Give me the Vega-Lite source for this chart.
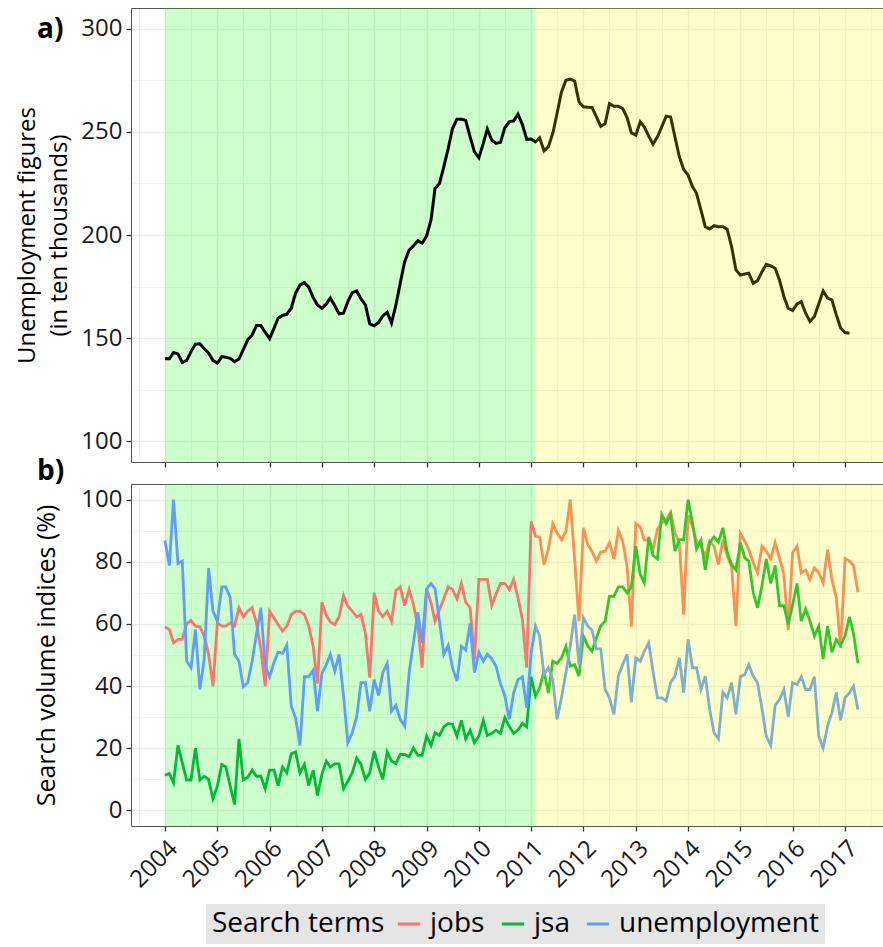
{
  "$schema": "https://vega.github.io/schema/vega-lite/v6.json",
  "background": "white",
  "padding": {"left": 15, "top": 8, "right": 0, "bottom": 0},
  "autosize": {"type": "pad"},
  "config": {
    "font": "Open Sans",
    "view": {"stroke": null},
    "axis": {
      "labelFont": "Open Sans", "titleFont": "Open Sans",
      "labelFontSize": 24, "titleFontSize": 25, "titleFontWeight": "normal",
      "labelColor": "#1a1a1a", "titleColor": "#000000",
      "gridColor": "#ebebeb", "domainColor": "#555555", "domainWidth": 1,
      "tickColor": "#333333", "tickWidth": 1.3, "tickSize": 5,
      "labelOverlap": false, "labelFlush": false, "labelBound": false
    },
    "title": {"font": "Open Sans", "color": "#000000"}
  },
  "datasets": {
    "unemp": [
      {"date":"2004-01","value":140.0},{"date":"2004-02","value":140.0},{"date":"2004-03","value":143.1},{"date":"2004-04","value":142.4},{"date":"2004-05","value":138.2},{"date":"2004-06","value":139.2},{"date":"2004-07","value":143.5},{"date":"2004-08","value":147.1},{"date":"2004-09","value":147.3},{"date":"2004-10","value":145.0},{"date":"2004-11","value":142.8},{"date":"2004-12","value":139.2},
      {"date":"2005-01","value":137.9},{"date":"2005-02","value":141.1},{"date":"2005-03","value":140.8},{"date":"2005-04","value":140.2},{"date":"2005-05","value":138.6},{"date":"2005-06","value":139.9},{"date":"2005-07","value":144.4},{"date":"2005-08","value":149.2},{"date":"2005-09","value":151.6},{"date":"2005-10","value":156.1},{"date":"2005-11","value":156.1},{"date":"2005-12","value":152.9},
      {"date":"2006-01","value":149.8},{"date":"2006-02","value":154.9},{"date":"2006-03","value":159.7},{"date":"2006-04","value":161.0},{"date":"2006-05","value":161.6},{"date":"2006-06","value":164.5},{"date":"2006-07","value":171.8},{"date":"2006-08","value":175.8},{"date":"2006-09","value":176.9},{"date":"2006-10","value":174.7},{"date":"2006-11","value":169.7},{"date":"2006-12","value":166.1},
      {"date":"2007-01","value":164.5},{"date":"2007-02","value":166.6},{"date":"2007-03","value":169.4},{"date":"2007-04","value":165.7},{"date":"2007-05","value":161.8},{"date":"2007-06","value":162.1},{"date":"2007-07","value":167.7},{"date":"2007-08","value":172.1},{"date":"2007-09","value":172.9},{"date":"2007-10","value":169.0},{"date":"2007-11","value":166.1},{"date":"2007-12","value":156.9},
      {"date":"2008-01","value":156.0},{"date":"2008-02","value":157.6},{"date":"2008-03","value":160.8},{"date":"2008-04","value":162.6},{"date":"2008-05","value":157.3},{"date":"2008-06","value":166.1},{"date":"2008-07","value":176.6},{"date":"2008-08","value":187.1},{"date":"2008-09","value":192.7},{"date":"2008-10","value":194.7},{"date":"2008-11","value":197.2},{"date":"2008-12","value":196.0},
      {"date":"2009-01","value":199.5},{"date":"2009-02","value":207.3},{"date":"2009-03","value":222.6},{"date":"2009-04","value":225.0},{"date":"2009-05","value":233.0},{"date":"2009-06","value":241.9},{"date":"2009-07","value":251.6},{"date":"2009-08","value":256.1},{"date":"2009-09","value":256.1},{"date":"2009-10","value":255.6},{"date":"2009-11","value":247.6},{"date":"2009-12","value":240.3},
      {"date":"2010-01","value":237.4},{"date":"2010-02","value":244.4},{"date":"2010-03","value":251.3},{"date":"2010-04","value":246.0},{"date":"2010-05","value":244.4},{"date":"2010-06","value":244.9},{"date":"2010-07","value":251.9},{"date":"2010-08","value":254.8},{"date":"2010-09","value":255.3},{"date":"2010-10","value":258.5},{"date":"2010-11","value":253.5},{"date":"2010-12","value":246.4},
      {"date":"2011-01","value":246.5},{"date":"2011-02","value":245.1},{"date":"2011-03","value":247.1},{"date":"2011-04","value":240.8},{"date":"2011-05","value":242.7},{"date":"2011-06","value":249.2},{"date":"2011-07","value":258.9},{"date":"2011-08","value":269.3},{"date":"2011-09","value":275.0},{"date":"2011-10","value":275.6},{"date":"2011-11","value":274.6},{"date":"2011-12","value":264.5},
      {"date":"2012-01","value":262.1},{"date":"2012-02","value":261.9},{"date":"2012-03","value":261.8},{"date":"2012-04","value":257.2},{"date":"2012-05","value":252.7},{"date":"2012-06","value":254.0},{"date":"2012-07","value":263.7},{"date":"2012-08","value":262.4},{"date":"2012-09","value":262.4},{"date":"2012-10","value":261.3},{"date":"2012-11","value":256.9},{"date":"2012-12","value":249.5},
      {"date":"2013-01","value":248.4},{"date":"2013-02","value":254.8},{"date":"2013-03","value":252.4},{"date":"2013-04","value":247.9},{"date":"2013-05","value":244.0},{"date":"2013-06","value":247.6},{"date":"2013-07","value":252.4},{"date":"2013-08","value":257.6},{"date":"2013-09","value":257.2},{"date":"2013-10","value":247.6},{"date":"2013-11","value":237.9},{"date":"2013-12","value":231.8},
      {"date":"2014-01","value":229.0},{"date":"2014-02","value":223.4},{"date":"2014-03","value":220.2},{"date":"2014-04","value":212.1},{"date":"2014-05","value":204.0},{"date":"2014-06","value":202.9},{"date":"2014-07","value":204.5},{"date":"2014-08","value":204.0},{"date":"2014-09","value":204.0},{"date":"2014-10","value":202.8},{"date":"2014-11","value":194.3},{"date":"2014-12","value":183.1},
      {"date":"2015-01","value":180.6},{"date":"2015-02","value":181.1},{"date":"2015-03","value":181.5},{"date":"2015-04","value":176.6},{"date":"2015-05","value":177.9},{"date":"2015-06","value":182.2},{"date":"2015-07","value":185.8},{"date":"2015-08","value":185.0},{"date":"2015-09","value":183.9},{"date":"2015-10","value":178.2},{"date":"2015-11","value":170.2},{"date":"2015-12","value":164.5},
      {"date":"2016-01","value":163.4},{"date":"2016-02","value":166.6},{"date":"2016-03","value":167.7},{"date":"2016-04","value":162.1},{"date":"2016-05","value":158.1},{"date":"2016-06","value":160.5},{"date":"2016-07","value":166.6},{"date":"2016-08","value":172.9},{"date":"2016-09","value":169.4},{"date":"2016-10","value":168.6},{"date":"2016-11","value":161.3},{"date":"2016-12","value":154.9},
      {"date":"2017-01","value":152.7},{"date":"2017-02","value":152.4}
    ],
    "search": [
      {"date":"2004-01","term":"jobs","value":59.1},{"date":"2004-02","term":"jobs","value":58.2},{"date":"2004-03","term":"jobs","value":53.9},{"date":"2004-04","term":"jobs","value":55.0},{"date":"2004-05","term":"jobs","value":55.0},{"date":"2004-06","term":"jobs","value":60.1},{"date":"2004-07","term":"jobs","value":61.1},{"date":"2004-08","term":"jobs","value":59.3},{"date":"2004-09","term":"jobs","value":59.1},{"date":"2004-10","term":"jobs","value":56.1},{"date":"2004-11","term":"jobs","value":50.2},{"date":"2004-12","term":"jobs","value":40.0},
      {"date":"2005-01","term":"jobs","value":60.3},{"date":"2005-02","term":"jobs","value":59.3},{"date":"2005-03","term":"jobs","value":59.3},{"date":"2005-04","term":"jobs","value":60.3},{"date":"2005-05","term":"jobs","value":59.3},{"date":"2005-06","term":"jobs","value":65.2},{"date":"2005-07","term":"jobs","value":62.3},{"date":"2005-08","term":"jobs","value":64.1},{"date":"2005-09","term":"jobs","value":65.2},{"date":"2005-10","term":"jobs","value":60.3},{"date":"2005-11","term":"jobs","value":51.8},{"date":"2005-12","term":"jobs","value":40.0},
      {"date":"2006-01","term":"jobs","value":64.1},{"date":"2006-02","term":"jobs","value":61.9},{"date":"2006-03","term":"jobs","value":59.8},{"date":"2006-04","term":"jobs","value":57.7},{"date":"2006-05","term":"jobs","value":59.3},{"date":"2006-06","term":"jobs","value":63.0},{"date":"2006-07","term":"jobs","value":64.1},{"date":"2006-08","term":"jobs","value":64.1},{"date":"2006-09","term":"jobs","value":63.0},{"date":"2006-10","term":"jobs","value":59.3},{"date":"2006-11","term":"jobs","value":52.8},{"date":"2006-12","term":"jobs","value":40.8},
      {"date":"2007-01","term":"jobs","value":67.0},{"date":"2007-02","term":"jobs","value":62.7},{"date":"2007-03","term":"jobs","value":60.6},{"date":"2007-04","term":"jobs","value":59.8},{"date":"2007-05","term":"jobs","value":62.3},{"date":"2007-06","term":"jobs","value":69.1},{"date":"2007-07","term":"jobs","value":65.7},{"date":"2007-08","term":"jobs","value":64.1},{"date":"2007-09","term":"jobs","value":62.3},{"date":"2007-10","term":"jobs","value":63.0},{"date":"2007-11","term":"jobs","value":56.9},{"date":"2007-12","term":"jobs","value":42.7},
      {"date":"2008-01","term":"jobs","value":70.0},{"date":"2008-02","term":"jobs","value":64.1},{"date":"2008-03","term":"jobs","value":62.3},{"date":"2008-04","term":"jobs","value":64.1},{"date":"2008-05","term":"jobs","value":60.9},{"date":"2008-06","term":"jobs","value":70.8},{"date":"2008-07","term":"jobs","value":71.9},{"date":"2008-08","term":"jobs","value":65.9},{"date":"2008-09","term":"jobs","value":71.1},{"date":"2008-10","term":"jobs","value":66.2},{"date":"2008-11","term":"jobs","value":59.3},{"date":"2008-12","term":"jobs","value":45.9},
      {"date":"2009-01","term":"jobs","value":71.3},{"date":"2009-02","term":"jobs","value":66.8},{"date":"2009-03","term":"jobs","value":60.9},{"date":"2009-04","term":"jobs","value":64.6},{"date":"2009-05","term":"jobs","value":68.1},{"date":"2009-06","term":"jobs","value":71.9},{"date":"2009-07","term":"jobs","value":71.1},{"date":"2009-08","term":"jobs","value":68.1},{"date":"2009-09","term":"jobs","value":73.0},{"date":"2009-10","term":"jobs","value":67.0},{"date":"2009-11","term":"jobs","value":65.2},{"date":"2009-12","term":"jobs","value":48.6},
      {"date":"2010-01","term":"jobs","value":74.3},{"date":"2010-02","term":"jobs","value":74.3},{"date":"2010-03","term":"jobs","value":74.3},{"date":"2010-04","term":"jobs","value":65.9},{"date":"2010-05","term":"jobs","value":69.5},{"date":"2010-06","term":"jobs","value":73.0},{"date":"2010-07","term":"jobs","value":73.0},{"date":"2010-08","term":"jobs","value":71.1},{"date":"2010-09","term":"jobs","value":74.3},{"date":"2010-10","term":"jobs","value":68.4},{"date":"2010-11","term":"jobs","value":61.4},{"date":"2010-12","term":"jobs","value":45.9},
      {"date":"2011-01","term":"jobs","value":93.0},{"date":"2011-02","term":"jobs","value":88.2},{"date":"2011-03","term":"jobs","value":88.0},{"date":"2011-04","term":"jobs","value":79.1},{"date":"2011-05","term":"jobs","value":83.9},{"date":"2011-06","term":"jobs","value":92.2},{"date":"2011-07","term":"jobs","value":89.3},{"date":"2011-08","term":"jobs","value":87.1},{"date":"2011-09","term":"jobs","value":89.8},{"date":"2011-10","term":"jobs","value":100},{"date":"2011-11","term":"jobs","value":80.7},{"date":"2011-12","term":"jobs","value":60.9},
      {"date":"2012-01","term":"jobs","value":90.9},{"date":"2012-02","term":"jobs","value":85.5},{"date":"2012-03","term":"jobs","value":83.4},{"date":"2012-04","term":"jobs","value":80.2},{"date":"2012-05","term":"jobs","value":83.1},{"date":"2012-06","term":"jobs","value":83.4},{"date":"2012-07","term":"jobs","value":86.1},{"date":"2012-08","term":"jobs","value":80.9},{"date":"2012-09","term":"jobs","value":90.1},{"date":"2012-10","term":"jobs","value":86.6},{"date":"2012-11","term":"jobs","value":78.6},{"date":"2012-12","term":"jobs","value":59.1},
      {"date":"2013-01","term":"jobs","value":92.3},{"date":"2013-02","term":"jobs","value":91.2},{"date":"2013-03","term":"jobs","value":86.9},{"date":"2013-04","term":"jobs","value":87.1},{"date":"2013-05","term":"jobs","value":83.9},{"date":"2013-06","term":"jobs","value":90.4},{"date":"2013-07","term":"jobs","value":92.5},{"date":"2013-08","term":"jobs","value":93.6},{"date":"2013-09","term":"jobs","value":95.9},{"date":"2013-10","term":"jobs","value":89.3},{"date":"2013-11","term":"jobs","value":86.1},{"date":"2013-12","term":"jobs","value":63.0},
      {"date":"2014-01","term":"jobs","value":94.9},{"date":"2014-02","term":"jobs","value":91.4},{"date":"2014-03","term":"jobs","value":86.6},{"date":"2014-04","term":"jobs","value":85.0},{"date":"2014-05","term":"jobs","value":81.8},{"date":"2014-06","term":"jobs","value":86.6},{"date":"2014-07","term":"jobs","value":85.0},{"date":"2014-08","term":"jobs","value":79.1},{"date":"2014-09","term":"jobs","value":87.1},{"date":"2014-10","term":"jobs","value":81.8},{"date":"2014-11","term":"jobs","value":78.3},{"date":"2014-12","term":"jobs","value":59.3},
      {"date":"2015-01","term":"jobs","value":89.1},{"date":"2015-02","term":"jobs","value":86.6},{"date":"2015-03","term":"jobs","value":83.9},{"date":"2015-04","term":"jobs","value":79.6},{"date":"2015-05","term":"jobs","value":76.4},{"date":"2015-06","term":"jobs","value":85.0},{"date":"2015-07","term":"jobs","value":83.4},{"date":"2015-08","term":"jobs","value":80.9},{"date":"2015-09","term":"jobs","value":86.1},{"date":"2015-10","term":"jobs","value":81.2},{"date":"2015-11","term":"jobs","value":75.9},{"date":"2015-12","term":"jobs","value":58.0},
      {"date":"2016-01","term":"jobs","value":82.9},{"date":"2016-02","term":"jobs","value":85.0},{"date":"2016-03","term":"jobs","value":76.4},{"date":"2016-04","term":"jobs","value":77.3},{"date":"2016-05","term":"jobs","value":74.3},{"date":"2016-06","term":"jobs","value":78.0},{"date":"2016-07","term":"jobs","value":76.6},{"date":"2016-08","term":"jobs","value":73.2},{"date":"2016-09","term":"jobs","value":83.9},{"date":"2016-10","term":"jobs","value":74.3},{"date":"2016-11","term":"jobs","value":68.4},{"date":"2016-12","term":"jobs","value":52.3},
      {"date":"2017-01","term":"jobs","value":81.0},{"date":"2017-02","term":"jobs","value":80.2},{"date":"2017-03","term":"jobs","value":78.8},{"date":"2017-04","term":"jobs","value":70.2},
      {"date":"2004-01","term":"jsa","value":11.3},{"date":"2004-02","term":"jsa","value":11.9},{"date":"2004-03","term":"jsa","value":8.9},{"date":"2004-04","term":"jsa","value":21.0},{"date":"2004-05","term":"jsa","value":15.3},{"date":"2004-06","term":"jsa","value":9.8},{"date":"2004-07","term":"jsa","value":9.8},{"date":"2004-08","term":"jsa","value":20.0},{"date":"2004-09","term":"jsa","value":9.8},{"date":"2004-10","term":"jsa","value":11.0},{"date":"2004-11","term":"jsa","value":10.0},{"date":"2004-12","term":"jsa","value":3.8},
      {"date":"2005-01","term":"jsa","value":7.8},{"date":"2005-02","term":"jsa","value":14.8},{"date":"2005-03","term":"jsa","value":14.0},{"date":"2005-04","term":"jsa","value":7.8},{"date":"2005-05","term":"jsa","value":1.9},{"date":"2005-06","term":"jsa","value":23.0},{"date":"2005-07","term":"jsa","value":9.8},{"date":"2005-08","term":"jsa","value":10.7},{"date":"2005-09","term":"jsa","value":13.0},{"date":"2005-10","term":"jsa","value":11.0},{"date":"2005-11","term":"jsa","value":11.0},{"date":"2005-12","term":"jsa","value":7.0},
      {"date":"2006-01","term":"jsa","value":13.0},{"date":"2006-02","term":"jsa","value":13.0},{"date":"2006-03","term":"jsa","value":8.0},{"date":"2006-04","term":"jsa","value":14.0},{"date":"2006-05","term":"jsa","value":12.1},{"date":"2006-06","term":"jsa","value":18.2},{"date":"2006-07","term":"jsa","value":18.8},{"date":"2006-08","term":"jsa","value":12.1},{"date":"2006-09","term":"jsa","value":14.8},{"date":"2006-10","term":"jsa","value":8.0},{"date":"2006-11","term":"jsa","value":13.0},{"date":"2006-12","term":"jsa","value":4.8},
      {"date":"2007-01","term":"jsa","value":11.6},{"date":"2007-02","term":"jsa","value":15.9},{"date":"2007-03","term":"jsa","value":14.0},{"date":"2007-04","term":"jsa","value":15.0},{"date":"2007-05","term":"jsa","value":15.0},{"date":"2007-06","term":"jsa","value":7.0},{"date":"2007-07","term":"jsa","value":9.4},{"date":"2007-08","term":"jsa","value":12.1},{"date":"2007-09","term":"jsa","value":16.9},{"date":"2007-10","term":"jsa","value":14.8},{"date":"2007-11","term":"jsa","value":10.0},{"date":"2007-12","term":"jsa","value":12.1},
      {"date":"2008-01","term":"jsa","value":19.1},{"date":"2008-02","term":"jsa","value":14.0},{"date":"2008-03","term":"jsa","value":10.0},{"date":"2008-04","term":"jsa","value":18.8},{"date":"2008-05","term":"jsa","value":15.9},{"date":"2008-06","term":"jsa","value":15.1},{"date":"2008-07","term":"jsa","value":18.0},{"date":"2008-08","term":"jsa","value":18.0},{"date":"2008-09","term":"jsa","value":17.3},{"date":"2008-10","term":"jsa","value":20.1},{"date":"2008-11","term":"jsa","value":17.7},{"date":"2008-12","term":"jsa","value":17.7},
      {"date":"2009-01","term":"jsa","value":23.9},{"date":"2009-02","term":"jsa","value":20.9},{"date":"2009-03","term":"jsa","value":25.0},{"date":"2009-04","term":"jsa","value":24.1},{"date":"2009-05","term":"jsa","value":26.9},{"date":"2009-06","term":"jsa","value":28.0},{"date":"2009-07","term":"jsa","value":27.7},{"date":"2009-08","term":"jsa","value":23.9},{"date":"2009-09","term":"jsa","value":29.0},{"date":"2009-10","term":"jsa","value":23.0},{"date":"2009-11","term":"jsa","value":25.8},{"date":"2009-12","term":"jsa","value":21.8},
      {"date":"2010-01","term":"jsa","value":23.9},{"date":"2010-02","term":"jsa","value":29.0},{"date":"2010-03","term":"jsa","value":24.1},{"date":"2010-04","term":"jsa","value":24.8},{"date":"2010-05","term":"jsa","value":25.8},{"date":"2010-06","term":"jsa","value":24.8},{"date":"2010-07","term":"jsa","value":29.8},{"date":"2010-08","term":"jsa","value":27.1},{"date":"2010-09","term":"jsa","value":24.8},{"date":"2010-10","term":"jsa","value":25.8},{"date":"2010-11","term":"jsa","value":28.0},{"date":"2010-12","term":"jsa","value":26.9},
      {"date":"2011-01","term":"jsa","value":43.0},{"date":"2011-02","term":"jsa","value":36.8},{"date":"2011-03","term":"jsa","value":39.4},{"date":"2011-04","term":"jsa","value":44.8},{"date":"2011-05","term":"jsa","value":37.8},{"date":"2011-06","term":"jsa","value":48.0},{"date":"2011-07","term":"jsa","value":47.3},{"date":"2011-08","term":"jsa","value":49.1},{"date":"2011-09","term":"jsa","value":52.8},{"date":"2011-10","term":"jsa","value":46.4},{"date":"2011-11","term":"jsa","value":46.9},{"date":"2011-12","term":"jsa","value":43.2},
      {"date":"2012-01","term":"jsa","value":56.1},{"date":"2012-02","term":"jsa","value":52.8},{"date":"2012-03","term":"jsa","value":51.2},{"date":"2012-04","term":"jsa","value":55.5},{"date":"2012-05","term":"jsa","value":59.3},{"date":"2012-06","term":"jsa","value":60.9},{"date":"2012-07","term":"jsa","value":68.9},{"date":"2012-08","term":"jsa","value":68.9},{"date":"2012-09","term":"jsa","value":71.9},{"date":"2012-10","term":"jsa","value":71.9},{"date":"2012-11","term":"jsa","value":70.0},{"date":"2012-12","term":"jsa","value":71.9},
      {"date":"2013-01","term":"jsa","value":85.0},{"date":"2013-02","term":"jsa","value":75.9},{"date":"2013-03","term":"jsa","value":73.2},{"date":"2013-04","term":"jsa","value":88.0},{"date":"2013-05","term":"jsa","value":82.0},{"date":"2013-06","term":"jsa","value":80.9},{"date":"2013-07","term":"jsa","value":95.2},{"date":"2013-08","term":"jsa","value":92.3},{"date":"2013-09","term":"jsa","value":95.2},{"date":"2013-10","term":"jsa","value":83.4},{"date":"2013-11","term":"jsa","value":87.1},{"date":"2013-12","term":"jsa","value":87.1},
      {"date":"2014-01","term":"jsa","value":100},{"date":"2014-02","term":"jsa","value":92.5},{"date":"2014-03","term":"jsa","value":84.1},{"date":"2014-04","term":"jsa","value":86.9},{"date":"2014-05","term":"jsa","value":77.3},{"date":"2014-06","term":"jsa","value":86.1},{"date":"2014-07","term":"jsa","value":88.0},{"date":"2014-08","term":"jsa","value":86.3},{"date":"2014-09","term":"jsa","value":90.9},{"date":"2014-10","term":"jsa","value":83.1},{"date":"2014-11","term":"jsa","value":79.1},{"date":"2014-12","term":"jsa","value":77.3},
      {"date":"2015-01","term":"jsa","value":86.1},{"date":"2015-02","term":"jsa","value":81.2},{"date":"2015-03","term":"jsa","value":80.2},{"date":"2015-04","term":"jsa","value":70.0},{"date":"2015-05","term":"jsa","value":65.2},{"date":"2015-06","term":"jsa","value":72.3},{"date":"2015-07","term":"jsa","value":80.9},{"date":"2015-08","term":"jsa","value":73.0},{"date":"2015-09","term":"jsa","value":78.8},{"date":"2015-10","term":"jsa","value":65.9},{"date":"2015-11","term":"jsa","value":65.9},{"date":"2015-12","term":"jsa","value":59.8},
      {"date":"2016-01","term":"jsa","value":66.2},{"date":"2016-02","term":"jsa","value":73.0},{"date":"2016-03","term":"jsa","value":60.9},{"date":"2016-04","term":"jsa","value":64.8},{"date":"2016-05","term":"jsa","value":60.9},{"date":"2016-06","term":"jsa","value":56.1},{"date":"2016-07","term":"jsa","value":59.3},{"date":"2016-08","term":"jsa","value":48.8},{"date":"2016-09","term":"jsa","value":59.3},{"date":"2016-10","term":"jsa","value":50.9},{"date":"2016-11","term":"jsa","value":55.0},{"date":"2016-12","term":"jsa","value":53.1},
      {"date":"2017-01","term":"jsa","value":56.1},{"date":"2017-02","term":"jsa","value":62.3},{"date":"2017-03","term":"jsa","value":56.9},{"date":"2017-04","term":"jsa","value":47.3},
      {"date":"2004-01","term":"unemployment","value":86.8},{"date":"2004-02","term":"unemployment","value":78.8},{"date":"2004-03","term":"unemployment","value":100},{"date":"2004-04","term":"unemployment","value":79.4},{"date":"2004-05","term":"unemployment","value":80.2},{"date":"2004-06","term":"unemployment","value":48.0},{"date":"2004-07","term":"unemployment","value":45.9},{"date":"2004-08","term":"unemployment","value":58.2},{"date":"2004-09","term":"unemployment","value":38.9},{"date":"2004-10","term":"unemployment","value":48.6},{"date":"2004-11","term":"unemployment","value":78.0},{"date":"2004-12","term":"unemployment","value":64.1},
      {"date":"2005-01","term":"unemployment","value":60.9},{"date":"2005-02","term":"unemployment","value":71.9},{"date":"2005-03","term":"unemployment","value":71.9},{"date":"2005-04","term":"unemployment","value":68.4},{"date":"2005-05","term":"unemployment","value":50.2},{"date":"2005-06","term":"unemployment","value":48.0},{"date":"2005-07","term":"unemployment","value":39.8},{"date":"2005-08","term":"unemployment","value":41.1},{"date":"2005-09","term":"unemployment","value":48.0},{"date":"2005-10","term":"unemployment","value":56.6},{"date":"2005-11","term":"unemployment","value":65.2},{"date":"2005-12","term":"unemployment","value":46.4},
      {"date":"2006-01","term":"unemployment","value":43.0},{"date":"2006-02","term":"unemployment","value":47.7},{"date":"2006-03","term":"unemployment","value":50.9},{"date":"2006-04","term":"unemployment","value":50.5},{"date":"2006-05","term":"unemployment","value":53.2},{"date":"2006-06","term":"unemployment","value":33.5},{"date":"2006-07","term":"unemployment","value":29.8},{"date":"2006-08","term":"unemployment","value":20.9},{"date":"2006-09","term":"unemployment","value":43.0},{"date":"2006-10","term":"unemployment","value":43.0},{"date":"2006-11","term":"unemployment","value":45.1},{"date":"2006-12","term":"unemployment","value":31.9},
      {"date":"2007-01","term":"unemployment","value":44.1},{"date":"2007-02","term":"unemployment","value":46.9},{"date":"2007-03","term":"unemployment","value":50.2},{"date":"2007-04","term":"unemployment","value":44.8},{"date":"2007-05","term":"unemployment","value":50.2},{"date":"2007-06","term":"unemployment","value":36.8},{"date":"2007-07","term":"unemployment","value":21.8},{"date":"2007-08","term":"unemployment","value":25.0},{"date":"2007-09","term":"unemployment","value":30.1},{"date":"2007-10","term":"unemployment","value":41.1},{"date":"2007-11","term":"unemployment","value":41.1},{"date":"2007-12","term":"unemployment","value":31.9},
      {"date":"2008-01","term":"unemployment","value":42.1},{"date":"2008-02","term":"unemployment","value":37.0},{"date":"2008-03","term":"unemployment","value":44.3},{"date":"2008-04","term":"unemployment","value":47.3},{"date":"2008-05","term":"unemployment","value":31.9},{"date":"2008-06","term":"unemployment","value":33.8},{"date":"2008-07","term":"unemployment","value":29.3},{"date":"2008-08","term":"unemployment","value":27.1},{"date":"2008-09","term":"unemployment","value":44.3},{"date":"2008-10","term":"unemployment","value":53.9},{"date":"2008-11","term":"unemployment","value":63.8},{"date":"2008-12","term":"unemployment","value":53.9},
      {"date":"2009-01","term":"unemployment","value":71.3},{"date":"2009-02","term":"unemployment","value":73.0},{"date":"2009-03","term":"unemployment","value":71.3},{"date":"2009-04","term":"unemployment","value":60.9},{"date":"2009-05","term":"unemployment","value":50.2},{"date":"2009-06","term":"unemployment","value":53.1},{"date":"2009-07","term":"unemployment","value":45.9},{"date":"2009-08","term":"unemployment","value":41.6},{"date":"2009-09","term":"unemployment","value":52.8},{"date":"2009-10","term":"unemployment","value":51.6},{"date":"2009-11","term":"unemployment","value":60.1},{"date":"2009-12","term":"unemployment","value":44.3},
      {"date":"2010-01","term":"unemployment","value":50.9},{"date":"2010-02","term":"unemployment","value":48.0},{"date":"2010-03","term":"unemployment","value":50.2},{"date":"2010-04","term":"unemployment","value":48.8},{"date":"2010-05","term":"unemployment","value":46.4},{"date":"2010-06","term":"unemployment","value":40.8},{"date":"2010-07","term":"unemployment","value":37.0},{"date":"2010-08","term":"unemployment","value":29.3},{"date":"2010-09","term":"unemployment","value":37.8},{"date":"2010-10","term":"unemployment","value":42.1},{"date":"2010-11","term":"unemployment","value":43.0},{"date":"2010-12","term":"unemployment","value":33.0},
      {"date":"2011-01","term":"unemployment","value":50.7},{"date":"2011-02","term":"unemployment","value":59.3},{"date":"2011-03","term":"unemployment","value":56.1},{"date":"2011-04","term":"unemployment","value":43.7},{"date":"2011-05","term":"unemployment","value":45.9},{"date":"2011-06","term":"unemployment","value":42.1},{"date":"2011-07","term":"unemployment","value":29.3},{"date":"2011-08","term":"unemployment","value":36.2},{"date":"2011-09","term":"unemployment","value":44.3},{"date":"2011-10","term":"unemployment","value":52.8},{"date":"2011-11","term":"unemployment","value":63.0},{"date":"2011-12","term":"unemployment","value":46.9},
      {"date":"2012-01","term":"unemployment","value":62.0},{"date":"2012-02","term":"unemployment","value":59.3},{"date":"2012-03","term":"unemployment","value":58.0},{"date":"2012-04","term":"unemployment","value":52.0},{"date":"2012-05","term":"unemployment","value":52.0},{"date":"2012-06","term":"unemployment","value":38.9},{"date":"2012-07","term":"unemployment","value":36.2},{"date":"2012-08","term":"unemployment","value":30.9},{"date":"2012-09","term":"unemployment","value":43.2},{"date":"2012-10","term":"unemployment","value":46.9},{"date":"2012-11","term":"unemployment","value":50.2},{"date":"2012-12","term":"unemployment","value":34.8},
      {"date":"2013-01","term":"unemployment","value":49.1},{"date":"2013-02","term":"unemployment","value":48.0},{"date":"2013-03","term":"unemployment","value":51.2},{"date":"2013-04","term":"unemployment","value":53.9},{"date":"2013-05","term":"unemployment","value":44.8},{"date":"2013-06","term":"unemployment","value":36.2},{"date":"2013-07","term":"unemployment","value":36.2},{"date":"2013-08","term":"unemployment","value":35.2},{"date":"2013-09","term":"unemployment","value":41.1},{"date":"2013-10","term":"unemployment","value":43.2},{"date":"2013-11","term":"unemployment","value":49.1},{"date":"2013-12","term":"unemployment","value":37.8},
      {"date":"2014-01","term":"unemployment","value":55.0},{"date":"2014-02","term":"unemployment","value":45.9},{"date":"2014-03","term":"unemployment","value":45.9},{"date":"2014-04","term":"unemployment","value":38.9},{"date":"2014-05","term":"unemployment","value":43.2},{"date":"2014-06","term":"unemployment","value":32.5},{"date":"2014-07","term":"unemployment","value":25.0},{"date":"2014-08","term":"unemployment","value":23.0},{"date":"2014-09","term":"unemployment","value":38.0},{"date":"2014-10","term":"unemployment","value":36.2},{"date":"2014-11","term":"unemployment","value":41.1},{"date":"2014-12","term":"unemployment","value":30.9},
      {"date":"2015-01","term":"unemployment","value":43.0},{"date":"2015-02","term":"unemployment","value":43.7},{"date":"2015-03","term":"unemployment","value":46.9},{"date":"2015-04","term":"unemployment","value":43.2},{"date":"2015-05","term":"unemployment","value":41.1},{"date":"2015-06","term":"unemployment","value":32.7},{"date":"2015-07","term":"unemployment","value":23.9},{"date":"2015-08","term":"unemployment","value":20.9},{"date":"2015-09","term":"unemployment","value":33.8},{"date":"2015-10","term":"unemployment","value":35.7},{"date":"2015-11","term":"unemployment","value":38.9},{"date":"2015-12","term":"unemployment","value":30.1},
      {"date":"2016-01","term":"unemployment","value":41.1},{"date":"2016-02","term":"unemployment","value":40.5},{"date":"2016-03","term":"unemployment","value":43.0},{"date":"2016-04","term":"unemployment","value":38.9},{"date":"2016-05","term":"unemployment","value":38.9},{"date":"2016-06","term":"unemployment","value":43.0},{"date":"2016-07","term":"unemployment","value":23.9},{"date":"2016-08","term":"unemployment","value":20.1},{"date":"2016-09","term":"unemployment","value":27.1},{"date":"2016-10","term":"unemployment","value":31.4},{"date":"2016-11","term":"unemployment","value":38.0},{"date":"2016-12","term":"unemployment","value":29.0},
      {"date":"2017-01","term":"unemployment","value":36.2},{"date":"2017-02","term":"unemployment","value":37.8},{"date":"2017-03","term":"unemployment","value":40.0},{"date":"2017-04","term":"unemployment","value":32.5}
    ]
  },
  "spacing": 22,
  "bounds": "flush",
  "vconcat": [
    {
      "width": 753,
      "height": 454,
      "title": {"text": "a)", "anchor": "start", "frame": "group", "dx": -94, "dy": 36, "offset": 0, "fontSize": 28, "fontWeight": "bold"},
      "layer": [
        {
          "data": {"values": [{"period": "before", "start": "2004-01-01", "end": "2011-02-01"}]},
          "mark": {"type": "rect", "color": "#00ff00", "opacity": 0.2, "clip": true},
          "encoding": {
            "x": {"field": "start", "type": "temporal",
                  "scale": {"domain": [{"year": 2003, "month": 5, "date": 9}, {"year": 2017, "month": 9, "date": 30}]},
                  "axis": {"orient": "top", "title": null, "labels": false, "ticks": false, "grid": false, "domain": true}},
            "x2": {"field": "end"}
          }
        },
        {
          "data": {"name": "unemp", "format": {"parse": {"date": "date:'%Y-%m'"}}},
          "mark": {"type": "line", "color": "#000000", "strokeWidth": 3, "clip": true},
          "encoding": {
            "x": {"field": "date", "type": "temporal",
                  "axis": {"orient": "bottom", "title": null, "labels": false, "tickCount": {"interval": "month", "step": 6},
                           "grid": true,
                           "gridWidth": {"condition": {"test": "month(datum.value) === 0", "value": 1.4}, "value": 0.7},
                           "tickOpacity": {"condition": {"test": "month(datum.value) === 0", "value": 1}, "value": 0}}},
            "y": {"field": "value", "type": "quantitative",
                  "scale": {"domain": [90, 310], "nice": false, "zero": false},
                  "axis": {"title": ["Unemployment figures", "(in ten thousands)"], "titleFontSize": 24, "titleLineHeight": 32, "titlePadding": 9,
                           "values": [100, 125, 150, 175, 200, 225, 250, 275, 300],
                           "labelExpr": "datum.value % 50 === 0 ? datum.label : ''",
                           "labelPadding": 4,
                           "gridWidth": {"condition": {"test": "datum.value % 50 === 0", "value": 1.4}, "value": 0.7},
                           "tickOpacity": {"condition": {"test": "datum.value % 50 === 0", "value": 1}, "value": 0}}}
          }
        },
        {
          "data": {"values": [{"period": "after", "start": "2011-02-01", "end": "2018-06-01"}]},
          "mark": {"type": "rect", "color": "#ffff00", "opacity": 0.2, "clip": true},
          "encoding": {
            "x": {"field": "start", "type": "temporal", "axis": null},
            "x2": {"field": "end"}
          }
        }
      ]
    },
    {
      "width": 753,
      "height": 342,
      "title": {"text": "b)", "anchor": "start", "frame": "group", "dx": -94, "dy": 2, "offset": 0, "fontSize": 28, "fontWeight": "bold"},
      "layer": [
        {
          "data": {"values": [{"period": "before", "start": "2004-01-01", "end": "2011-02-01"}]},
          "mark": {"type": "rect", "color": "#00ff00", "opacity": 0.2, "clip": true},
          "encoding": {
            "x": {"field": "start", "type": "temporal",
                  "scale": {"domain": [{"year": 2003, "month": 5, "date": 9}, {"year": 2017, "month": 9, "date": 30}]},
                  "axis": {"orient": "top", "title": null, "labels": false, "ticks": false, "grid": false, "domain": true}},
            "x2": {"field": "end"}
          }
        },
        {
          "data": {"name": "search", "format": {"parse": {"date": "date:'%Y-%m'"}}},
          "mark": {"type": "line", "strokeWidth": 2.8, "clip": true},
          "encoding": {
            "x": {"field": "date", "type": "temporal",
                  "axis": {"orient": "bottom", "title": null, "tickCount": {"interval": "month", "step": 6},
                           "labelExpr": "month(datum.value) === 0 ? timeFormat(datum.value, '%Y') : ''",
                           "labelAngle": -45, "labelAlign": "right", "labelBaseline": "top", "labelPadding": 5,
                           "grid": true,
                           "gridWidth": {"condition": {"test": "month(datum.value) === 0", "value": 1.4}, "value": 0.7},
                           "tickOpacity": {"condition": {"test": "month(datum.value) === 0", "value": 1}, "value": 0}}},
            "y": {"field": "value", "type": "quantitative",
                  "scale": {"domain": [-5, 105], "nice": false, "zero": false},
                  "axis": {"title": "Search volume indices (%)", "titlePadding": 21,
                           "values": [0, 10, 20, 30, 40, 50, 60, 70, 80, 90, 100],
                           "labelExpr": "datum.value % 20 === 0 ? datum.label : ''",
                           "labelPadding": 4,
                           "gridWidth": {"condition": {"test": "datum.value % 20 === 0", "value": 1.4}, "value": 0.7},
                           "tickOpacity": {"condition": {"test": "datum.value % 20 === 0", "value": 1}, "value": 0}}},
            "color": {"field": "term", "type": "nominal",
                      "scale": {"domain": ["jobs", "jsa", "unemployment"], "range": ["#F8766D", "#00BA38", "#619CFF"]},
                      "legend": {"title": "Search terms", "orient": "none", "legendX": 75, "legendY": 896,
                                 "direction": "horizontal", "titleOrient": "left", "titleBaseline": "middle",
                                 "fillColor": "#e5e5e5", "padding": 6,
                                 "symbolType": "stroke", "symbolStrokeWidth": 3, "symbolSize": 500,
                                 "labelFontSize": 28, "titleFontSize": 28, "titleFontWeight": "normal", "labelLimit": 400, "titleLimit": 400,
                                 "labelColor": "#000000", "titleColor": "#000000", "labelFont": "Open Sans", "titleFont": "Open Sans",
                                 "labelOffset": 7, "columnPadding": 10, "titlePadding": 10}}
          }
        },
        {
          "data": {"values": [{"period": "after", "start": "2011-02-01", "end": "2018-06-01"}]},
          "mark": {"type": "rect", "color": "#ffff00", "opacity": 0.2, "clip": true},
          "encoding": {
            "x": {"field": "start", "type": "temporal", "axis": null},
            "x2": {"field": "end"}
          }
        }
      ]
    }
  ]
}
